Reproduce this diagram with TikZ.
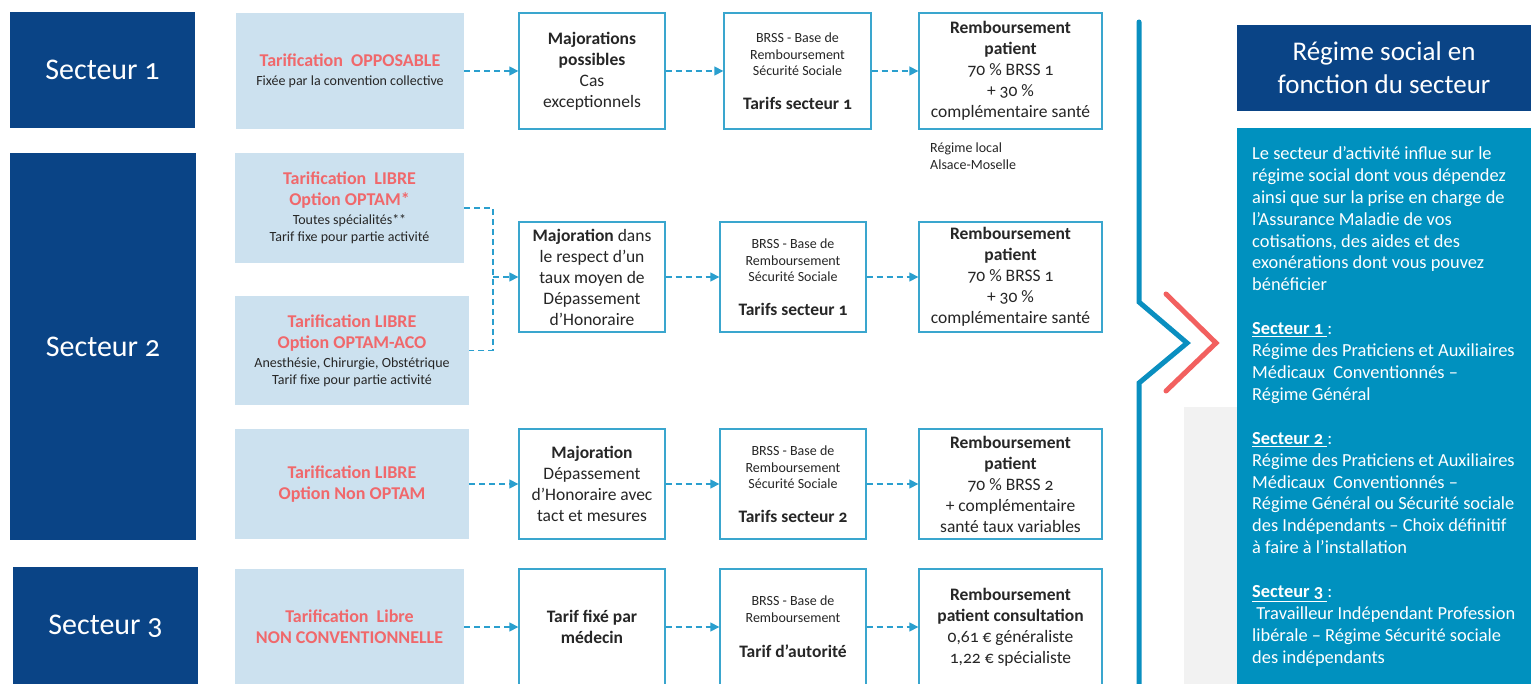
\documentclass[tikz,border=0pt]{standalone}
\usepackage{fontspec}
\setmainfont{Carlito}[Numbers=OldStyle]
\usetikzlibrary{arrows.meta}
\definecolor{navy}{HTML}{0A4486}
\definecolor{lightbl}{HTML}{CCE1EF}
\definecolor{salmon}{HTML}{F0686B}
\definecolor{tealbox}{HTML}{0091BF}
\definecolor{bordc}{HTML}{3AA6CE}
\definecolor{arrc}{HTML}{2A9FCE}
\definecolor{txt}{HTML}{262626}
\definecolor{chevblue}{HTML}{0A8FC0}
\definecolor{chevred}{HTML}{F2605F}
\definecolor{grayzone}{HTML}{F2F2F2}
\newcommand\fsz[2]{\fontsize{#1}{#2}\selectfont}
\newcommand\redl[1]{{\fsz{18}{21}\bfseries\color{salmon}#1}}
\tikzset{
  secbox/.style={fill=navy, text=white, font=\fsz{30}{36}, inner sep=0},
  tarbox/.style={fill=lightbl, inner sep=0, align=center, text=txt, font=\fsz{14}{17}},
  tarred/.style={fill=lightbl, inner sep=0, align=center, text=salmon, font=\fsz{18}{21}\bfseries},
  wbox/.style={draw=bordc, line width=1.4pt, fill=white, inner sep=0, align=center, text=txt, font=\fsz{17.5}{21}},
  brssbox/.style={wbox, font=\fsz{14}{16.5}},
  dasharr/.style={arrc, line width=1.6pt, dash pattern=on 6pt off 4pt, -{Triangle[length=9pt,width=9pt]}},
  dashln/.style={arrc, line width=1.6pt, dash pattern=on 6pt off 4pt},
  paneltxt/.style={text=white, font=\fsz{18.4}{22}, inner sep=0},
}
\begin{document}
\begin{tikzpicture}[x=1pt,y=-1pt]
\useasboundingbox (0,0) rectangle (1531,684);
\fill[white] (0,0) rectangle (1531,684);

% secteur boxes
\node[secbox, minimum width=185pt, minimum height=116pt] (s1) at (102.5,70) {Secteur 1};
\node[secbox, minimum width=186pt, minimum height=387pt] (s2) at (103,346.5) {Secteur 2};
\node[secbox, minimum width=185pt, minimum height=118pt] (s3) at (105.5,626) {Secteur 3};

% tarification boxes
\node[tarbox, minimum width=228pt, minimum height=116pt] (t1) at (350,71)
  {\redl{Tarification\ \ OPPOSABLE}\\[2pt]Fixée par la convention collective};
\node[tarbox, minimum width=229pt, minimum height=110pt] (t2a) at (349.5,208)
  {\redl{Tarification\ \ LIBRE}\\[4pt]\redl{Option OPTAM*}\\[2pt]Toutes spécialités**\\Tarif fixe pour partie activité};
\node[tarbox, minimum width=234pt, minimum height=109pt] (t2b) at (352,350.5)
  {\redl{Tarification LIBRE}\\[4pt]\redl{Option OPTAM-ACO}\\[2pt]Anesthésie, Chirurgie, Obstétrique\\Tarif fixe pour partie activité};
\node[tarred, minimum width=234pt, minimum height=110pt] (t2c) at (352,484)
  {Tarification LIBRE\\Option Non OPTAM};
\node[tarred, minimum width=229pt, minimum height=116pt] (t3) at (349.5,627)
  {Tarification\ \ Libre\\NON CONVENTIONNELLE};

% column A
\node[wbox, minimum width=146pt, minimum height=116pt] (a1) at (592,71)
  {\textbf{Majorations}\\\textbf{possibles}\\Cas\\exceptionnels};
\node[wbox, minimum width=146pt, minimum height=110pt] (a2) at (592,277)
  {\textbf{Majoration} dans\\le respect d’un\\taux moyen de\\Dépassement\\d’Honoraire};
\node[wbox, minimum width=146pt, minimum height=110pt] (a3) at (592,484)
  {\textbf{Majoration}\\Dépassement\\d’Honoraire avec\\tact et mesures};
\node[wbox, minimum width=146pt, minimum height=116pt] (a4) at (592,627)
  {\textbf{Tarif fixé par}\\\textbf{médecin}};

% column B
\node[brssbox, minimum width=147pt, minimum height=116pt] (b1) at (797.5,71)
  {BRSS - Base de\\Remboursement\\Sécurité Sociale\\[17pt]{\fsz{17.5}{21}\bfseries Tarifs secteur 1}};
\node[brssbox, minimum width=146pt, minimum height=110pt] (b2) at (793,277)
  {BRSS - Base de\\Remboursement\\Sécurité Sociale\\[17pt]{\fsz{17.5}{21}\bfseries Tarifs secteur 1}};
\node[brssbox, minimum width=146pt, minimum height=110pt] (b3) at (793,484)
  {BRSS - Base de\\Remboursement\\Sécurité Sociale\\[17pt]{\fsz{17.5}{21}\bfseries Tarifs secteur 2}};
\node[brssbox, minimum width=146pt, minimum height=116pt] (b4) at (793,627)
  {BRSS - Base de\\Remboursement\\[19pt]{\fsz{17.5}{21}\bfseries Tarif d’autorité}};

% column C
\node[wbox, minimum width=183pt, minimum height=116pt] (c1) at (1010.5,71)
  {\textbf{Remboursement}\\\textbf{patient}\\70 \% BRSS 1\\+ 30 \%\\complémentaire santé};
\node[wbox, minimum width=183pt, minimum height=110pt] (c2) at (1010.5,277)
  {\textbf{Remboursement}\\\textbf{patient}\\70 \% BRSS 1\\+ 30 \%\\complémentaire santé};
\node[wbox, minimum width=183pt, minimum height=110pt] (c3) at (1010.5,484)
  {\textbf{Remboursement}\\\textbf{patient}\\70 \% BRSS 2\\+ complémentaire\\santé taux variables};
\node[wbox, minimum width=183pt, minimum height=116pt] (c4) at (1010.5,627)
  {\textbf{Remboursement}\\\textbf{patient consultation}\\0,61 € généraliste\\1,22 € spécialiste};

\node[anchor=west, align=left, inner sep=0, text=txt, font=\fsz{14}{16.5}] (loc) at (930,156)
  {Régime local\\Alsace-Moselle};

% connectors
\draw[dasharr] (t1) -- (a1);
\draw[dasharr] (a1) -- (b1);
\draw[dasharr] (b1) -- (c1);
\coordinate (j) at (493,277);
\draw[dashln] (t2a.east) -| (j) |- (t2b.east);
\draw[dasharr] (j) -- (a2);
\draw[dasharr] (a2) -- (b2);
\draw[dasharr] (b2) -- (c2);
\draw[dasharr] (t2c) -- (a3);
\draw[dasharr] (a3) -- (b3);
\draw[dasharr] (b3) -- (c3);
\draw[dasharr] (t3) -- (a4);
\draw[dasharr] (a4) -- (b4);
\draw[dasharr] (b4) -- (c4);

% right part
\fill[grayzone] (1184,407) rectangle (1237,690);
\draw[chevblue, line width=5pt, line cap=round] (1139,22) -- (1139,302) -- (1187,343) -- (1139,383) -- (1139,695);
\draw[chevred, line width=5pt, line cap=round] (1166,294) -- (1216,343) -- (1166,391);

\node[fill=navy, text=white, minimum width=294pt, minimum height=86pt, inner sep=0, align=center,
  font=\fsz{27}{33}] (title) at (1384,68) {Régime social en\\fonction du secteur};
\fill[tealbox] (1237,128) rectangle (1535,690);

\foreach \k/\ln in {
  0/{Le secteur d’activité influe sur le},
  1/{régime social dont vous dépendez},
  2/{ainsi que sur la prise en charge de},
  3/{l’Assurance Maladie de vos},
  4/{cotisations, des aides et des},
  5/{exonérations dont vous pouvez},
  6/{bénéficier},
  8/{\underline{\textbf{Secteur 1}\ }:},
  9/{Régime des Praticiens et Auxiliaires},
  10/{Médicaux\ \ Conventionnés –},
  11/{Régime Général},
  13/{\underline{\textbf{Secteur 2}\ }:},
  14/{Régime des Praticiens et Auxiliaires},
  15/{Médicaux\ \ Conventionnés –},
  16/{Régime Général ou Sécurité sociale},
  17/{des Indépendants – Choix définitif},
  18/{à faire à l’installation},
  20/{\underline{\textbf{Secteur 3}\ }:},
  21/{\ Travailleur Indépendant Profession},
  22/{libérale – Régime Sécurité sociale},
  23/{des indépendants}}
  \node[paneltxt, anchor=base west] (p\k) at (1252,{159.5+21.9*\k}) {\ln};
\end{tikzpicture}
\end{document}
